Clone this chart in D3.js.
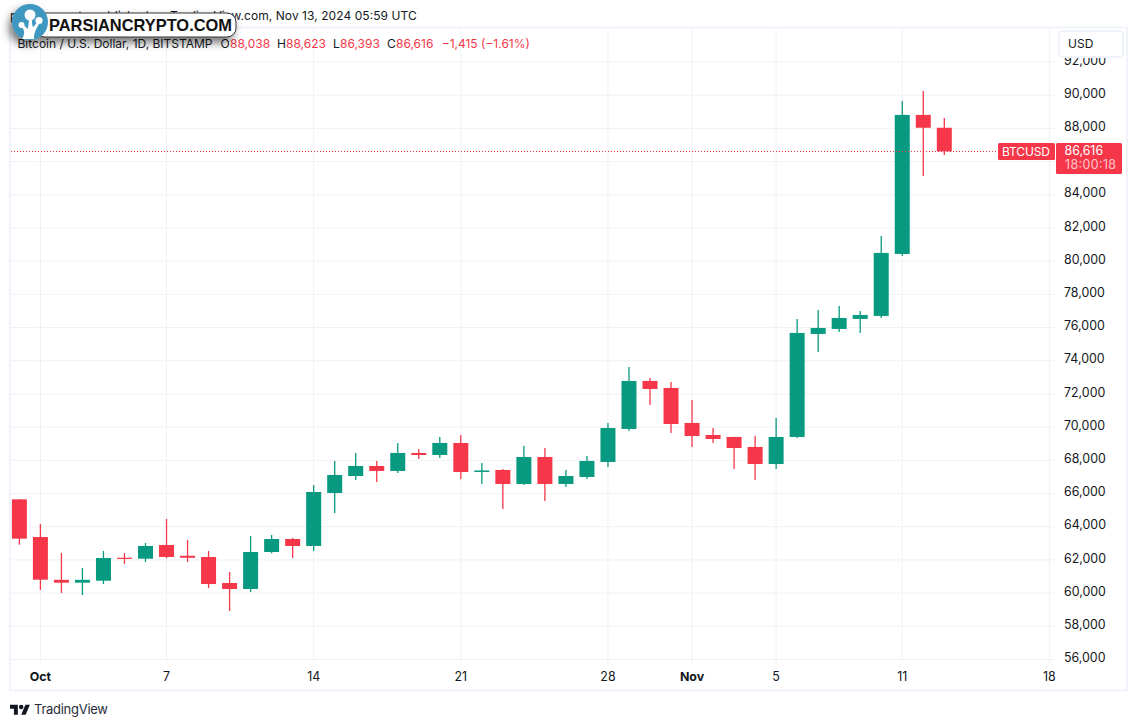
<!DOCTYPE html>
<html>
<head>
<meta charset="utf-8">
<script src="https://cdn.jsdelivr.net/npm/d3@7/dist/d3.min.js"></script>
<style>
  html, body { margin: 0; background: #fff; }
  svg { display: block; font-family: Inter, "Liberation Sans", sans-serif; }
  .axis .domain { display: none; }
  .axis .tick line { display: none; }
  .axis text { fill: #131722; font-size: 12.4px; font-family: Inter, sans-serif; }
</style>
</head>
<body>
<svg id="chart" width="1137" height="726"></svg>
<script>
// daily candles, BTCUSD Bitstamp
const dates = ['2024-09-30','2024-10-01','2024-10-02','2024-10-03','2024-10-04','2024-10-05','2024-10-06','2024-10-07','2024-10-08','2024-10-09','2024-10-10','2024-10-11','2024-10-12','2024-10-13','2024-10-14','2024-10-15','2024-10-16','2024-10-17','2024-10-18','2024-10-19','2024-10-20','2024-10-21','2024-10-22','2024-10-23','2024-10-24','2024-10-25','2024-10-26','2024-10-27','2024-10-28','2024-10-29','2024-10-30','2024-10-31','2024-11-01','2024-11-02','2024-11-03','2024-11-04','2024-11-05','2024-11-06','2024-11-07','2024-11-08','2024-11-09','2024-11-10','2024-11-11','2024-11-12','2024-11-13'];
const opens  = [65650,63382,60800,60628,60748,62130,62074,62900,62250,62177,60610,60248,62478,63261,62840,66033,67058,67660,67359,68444,68323,69046,67299,67420,66576,68203,66576,66997,67901,69890,72782,72361,70251,69528,69408,68805,67781,69408,75615,75916,76519,76700,80436,88812,88038];
const highs  = [65650,64165,62418,61514,62538,62418,63020,64467,63201,62538,61273,63442,63502,63322,66515,67962,68444,67962,69046,68685,69408,69528,67841,67479,68865,68745,67419,68263,70251,73626,72963,72722,71638,69950,69420,69468,70553,76519,77061,77302,77001,81520,89655,90258,88623];
const lows   = [62918,60188,60007,59887,60550,61755,61875,62100,61875,60309,58923,60068,62400,62116,62538,64828,66817,66696,67238,68082,68142,66877,66576,65069,66515,65551,66395,66877,67600,69769,71336,69649,68805,69046,67479,66817,67479,69347,74530,75735,75675,76579,80315,85136,86393];
const closes = [63280,60809,60628,60800,62116,62060,62840,62177,62130,60550,60248,62478,63261,62840,66094,67118,67660,67359,68444,68323,69046,67299,67390,66576,68203,66576,67058,67962,69950,72782,72300,70191,69468,69287,68745,67781,69408,75675,75976,76579,76759,80496,88812,88038,86616];

const priceTicks = d3.range(56000, 92001, 2000);
const hiddenPriceLabels = [86000]; // sits under the last price box
const weekTicks = ['2024-10-01','2024-10-07','2024-10-14','2024-10-21','2024-10-28','2024-11-01','2024-11-05','2024-11-11','2024-11-18'];
const monthTicks = ['2024-10-01','2024-11-01'];
const weekLabels = ['Oct','7','14','21','28','Nov','5','11','18'];
const lastPrice = 86616;

const RED = '#f53749', GREEN = '#089a80', GRID = '#eff1f5', FRAME = '#f0f3fa', INK = '#131722';

const day = s => new Date(s + 'T00:00:00Z');
const candles = dates.map((d, i) => ({ date: day(d), o: opens[i], h: highs[i], l: lows[i], c: closes[i] }));

const svg = d3.select('#chart');
const x = d3.scaleUtc().domain([day('2024-10-01'), day('2024-11-18')]).range([40.4, 1049.4]);
const y = d3.scaleLinear().domain([56000, 92000]).range([659.5, 62]);

// SNAPSHOT LINE
svg.append('text')
  .attr('x', 10).attr('y', 20)
  .attr('font-size', 12).attr('fill', INK)
  .attr('textLength', 406.7)
  .text('parsiancrypto published on TradingView.com, Nov 13, 2024 05:59 UTC');

// FRAME + GRID
svg.append('rect')
  .attr('x', 10).attr('y', 27.5).attr('width', 1117).attr('height', 663)
  .attr('fill', '#fff').attr('stroke', FRAME).attr('stroke-width', 2);

svg.append('g').selectAll('line').data(priceTicks).join('line')
  .attr('x1', 11).attr('x2', 1055)
  .attr('y1', d => y(d)).attr('y2', d => y(d))
  .attr('stroke', GRID).attr('stroke-width', 1);

svg.append('g').selectAll('line').data(weekTicks).join('line')
  .attr('x1', d => x(day(d))).attr('x2', d => x(day(d)))
  .attr('y1', 29).attr('y2', 663)
  .attr('stroke', GRID).attr('stroke-width', 1);

// AXES
svg.append('g').attr('class', 'axis')
  .attr('transform', 'translate(1056,-1.8)')
  .call(d3.axisRight(y)
    .tickValues(priceTicks.filter(d => !hiddenPriceLabels.includes(d)))
    .tickSize(0).tickPadding(8).tickFormat(d3.format(',')));

const xAxis = svg.append('g').attr('class', 'axis')
  .attr('transform', 'translate(-0.5,664.5)')
  .call(d3.axisBottom(x).tickValues(weekTicks.map(day)).tickSize(0).tickPadding(8)
    .tickFormat((d, i) => weekLabels[i]));
xAxis.selectAll('text')
  .style('font-weight', d => monthTicks.includes(d.toISOString().slice(0, 10)) ? 700 : 400);

// USD BUTTON
svg.append('rect')
  .attr('x', 1059).attr('y', 31).attr('width', 64).attr('height', 26).attr('rx', 4)
  .attr('fill', '#fff').attr('stroke', FRAME).attr('stroke-width', 2);
svg.append('text').attr('x', 1068).attr('y', 48)
  .attr('font-size', 12).attr('fill', INK).text('USD');

// CANDLES
const colorOf = d => d.c >= d.o ? GREEN : RED;
const g = svg.append('g');
g.selectAll('.wick').data(candles).join('line')
  .attr('class', 'wick')
  .attr('x1', d => x(d.date)).attr('x2', d => x(d.date))
  .attr('y1', d => y(d.h)).attr('y2', d => y(d.l))
  .attr('stroke', colorOf).attr('stroke-width', 1.3);
const bodyW = 15;
g.selectAll('.body').data(candles).join('rect')
  .attr('class', 'body')
  .attr('x', d => x(d.date) - bodyW / 2)
  .attr('y', d => y(Math.max(d.o, d.c)))
  .attr('width', bodyW)
  .attr('height', d => Math.max(1, Math.abs(y(d.o) - y(d.c))))
  .attr('fill', colorOf);

// LAST PRICE
const lastY = Math.round(y(lastPrice)) + 0.5;
svg.append('line')
  .attr('x1', 11).attr('x2', 998)
  .attr('y1', lastY).attr('y2', lastY)
  .attr('stroke', RED).attr('stroke-width', 1).attr('stroke-dasharray', '1 2')
  .attr('shape-rendering', 'crispEdges');
svg.append('rect').attr('x', 998).attr('y', 143).attr('width', 57).attr('height', 17).attr('rx', 1.5).attr('fill', RED);
svg.append('text').attr('x', 1002).attr('y', 156).attr('font-size', 12).attr('fill', '#fff')
  .attr('textLength', 48).text('BTCUSD');
svg.append('rect').attr('x', 1056).attr('y', 143).attr('width', 66).attr('height', 31).attr('rx', 1.5).attr('fill', RED);
svg.append('text').attr('x', 1064.5).attr('y', 155).attr('font-size', 12.4).attr('fill', '#fff').text(d3.format(',')(lastPrice));
svg.append('text').attr('x', 1065).attr('y', 169).attr('font-size', 12.4).attr('fill', '#fff').attr('fill-opacity', 0.72)
  .attr('textLength', 51).text('18:00:18');

// LEGEND
svg.append('text').attr('x', 17.5).attr('y', 47.5).attr('font-size', 12).attr('fill', INK)
  .attr('textLength', 195).text('Bitcoin / U.S. Dollar, 1D, BITSTAMP');
const legend = [
  ['O', 220.5, INK], [d3.format(',')(opens[44]), 230, RED],
  ['H', 277, INK], [d3.format(',')(highs[44]), 286, RED],
  ['L', 333, INK], [d3.format(',')(lows[44]), 340, RED],
  ['C', 387, INK], [d3.format(',')(closes[44]), 396, RED],
  ['\u22121,415 (\u22121.61%)', 441.7, RED]
];
svg.append('g').selectAll('text').data(legend).join('text')
  .attr('x', d => d[1]).attr('y', 47.5)
  .attr('font-size', 12).attr('fill', d => d[2])
  .text(d => d[0]);

// TRADINGVIEW LOGO
const tv = svg.append('g').attr('transform', 'translate(10,702.5) scale(0.56)').attr('fill', '#131722');
tv.append('path').attr('d', 'M14 22H7V11H0V4h14v18zM28 22h-8l7.5-18h8L28 22z');
tv.append('circle').attr('cx', 20).attr('cy', 8).attr('r', 4);
svg.append('text').attr('x', 34).attr('y', 714).attr('font-size', 13).attr('fill', '#2a2e39')
  .attr('textLength', 74).text('TradingView');

// WATERMARK
const defs = svg.append('defs');
const f = defs.append('filter').attr('id', 'wmShadow').attr('x', '-30%').attr('y', '-60%').attr('width', '160%').attr('height', '260%');
f.append('feDropShadow').attr('dx', -3).attr('dy', 5).attr('stdDeviation', 4).attr('flood-color', '#000').attr('flood-opacity', 0.55);

const wm = svg.append('g').attr('filter', 'url(#wmShadow)');
wm.append('rect').attr('x', 36).attr('y', 13).attr('width', 200).attr('height', 24).attr('rx', 9)
  .attr('fill', '#fff').attr('stroke', '#333').attr('stroke-width', 1);
wm.append('circle').attr('cx', 30).attr('cy', 22).attr('r', 18).attr('fill', '#3d97bf');

svg.append('text').attr('x', 49).attr('y', 31).attr('font-size', 16.2).attr('font-weight', 700)
  .attr('fill', '#111').attr('textLength', 183).attr('lengthAdjust', 'spacingAndGlyphs')
  .attr('font-family', '"Liberation Sans", sans-serif').text('PARSIANCRYPTO.COM');

const tree = svg.append('g').attr('fill', '#fff');
tree.append('circle').attr('cx', 30).attr('cy', 15).attr('r', 5.5);
tree.append('circle').attr('cx', 21.5).attr('cy', 25).attr('r', 3);
tree.append('circle').attr('cx', 39).attr('cy', 20.5).attr('r', 3.6);
tree.append('path').attr('d', 'M22 39 C25 34 25 30 21 26 L23 25 C26 27 27 28 28 29 C28 26 29 23 29 19 L32 19 C32 23 32 25 33 27 C35 25 36 24 37 22 L39.5 23 C37 28 34 31 34 39 Z');
</script>
</body>
</html>
